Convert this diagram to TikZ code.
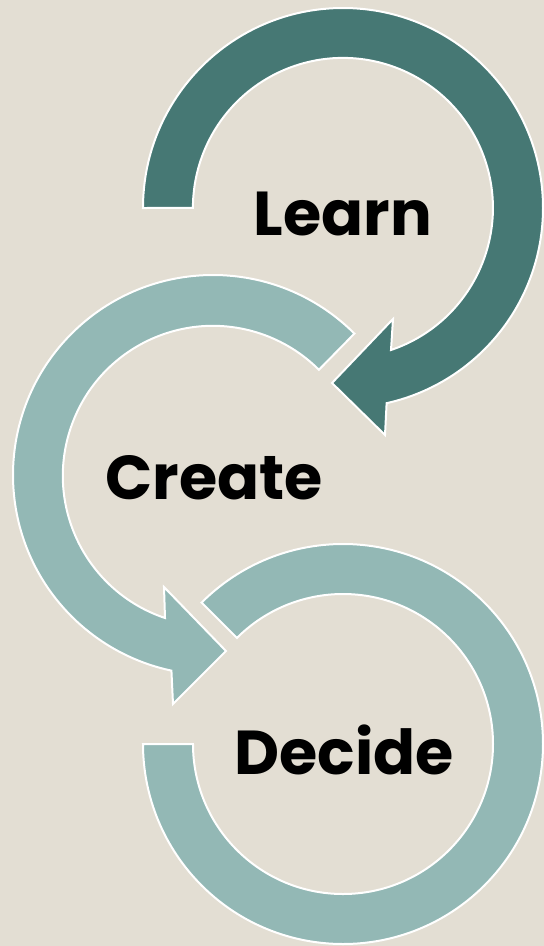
\documentclass[tikz,border=0pt]{standalone}
\usepackage{fontspec}
\setmainfont{Poppins}
\usetikzlibrary{positioning}
\definecolor{bgbeige}{HTML}{E3DED3}
\definecolor{darkteal}{HTML}{467874}
\definecolor{lightteal}{HTML}{93B8B5}
\tikzstyle{darkring} = [fill=darkteal, draw=white, line width=2pt]
\tikzstyle{lightring} = [fill=lightteal, draw=white, line width=2pt]
\tikzstyle{word} = [inner sep=0pt, text=black, font=\fontsize{62}{72}\selectfont\bfseries]

\begin{document}
\begin{tikzpicture}[x=1pt, y=-1pt]
  % background
  \useasboundingbox (0,0) rectangle (544,946);
  \fill[bgbeige] (0,0) rectangle (544,946);

  % centres
  \coordinate (cL) at (343,208);
  \coordinate (cC) at (213,475);
  \coordinate (cD) at (343,744);

  % Decide ring
  \path[lightring] (cD) ++(-135:200) arc[start angle=-135, end angle=180, radius=200]
    -- ++(50,0) arc[start angle=180, end angle=-135, radius=150] -- cycle;

  % Create arrow
  \path[lightring] (cC) ++(-45:200) arc[start angle=-45, end angle=-258, radius=200]
    -- (173,704) -- (226,651) -- (164,587) -- (165,618)
    arc[start angle=-251.4, end angle=-45, radius=150] -- cycle;

  % Learn arrow
  \path[darkring] (cL) ++(180:200) arc[start angle=180, end angle=437.4, radius=200]
    -- (385,435) -- (332,383) -- (393,319) -- (391,350)
    arc[start angle=431.3, end angle=180, radius=150] -- cycle;

  % labels
  \node[word] (learn) at (343,214) {Learn};
  \node[word] (create) at (214,478) {Create};
  \node[word] (decide) at (344,750) {Decide};
\end{tikzpicture}
\end{document}
